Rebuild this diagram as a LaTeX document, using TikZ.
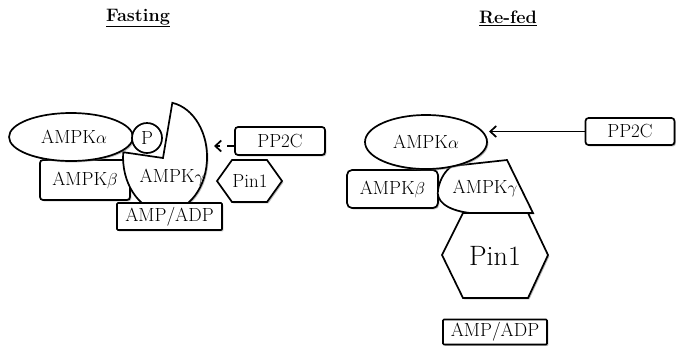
\documentclass[tikz,border=0pt]{standalone}
\usetikzlibrary{shapes.geometric,arrows.meta,shadows}
\begin{document}
\begin{tikzpicture}[x=1pt,y=-1pt,
  outl/.style={draw=black,line width=1.7pt,fill=white},
  shad/.style={drop shadow={shadow xshift=1.4pt,shadow yshift=-1.4pt,fill=black!50,opacity=0.55}},
  lbl/.style={font=\fontsize{19}{22}\selectfont,inner sep=0pt},
  box/.style={outl,shad,rectangle,rounded corners=3pt,inner sep=0pt,font=\fontsize{19}{22}\selectfont},
  ell/.style={outl,shad,ellipse,inner sep=0pt,font=\fontsize{19}{22}\selectfont},
  ttl/.style={font=\fontsize{18}{21}\selectfont\bfseries,inner sep=0pt},
  barb/.style={-{Straight Barb[length=6pt,width=11pt]},line width=1.7pt}
]
\path[use as bounding box] (0,0) rectangle (676,346);

% titles
\node[ttl] (tF) at (138,18) {\underline{Fasting}};
\node[ttl] (tR) at (508,18) {\underline{Re-fed}};

% ---------------- Fasting ----------------
\node[box,minimum width=90pt,minimum height=40pt] (betaL) at (85,180) {AMPK$\beta$};
\path[outl,shad] (123.2,152.2) arc[start angle=185,end angle=-80,x radius=42,y radius=55] -- (163,158) -- cycle;
\node[lbl] (gammaL) at (172,177) {AMPK$\gamma$};
\node[ell,minimum width=124pt,minimum height=48pt] (alphaL) at (71,137) {\hspace*{6pt}AMPK$\alpha$};
\node[outl,circle,minimum size=30pt,inner sep=0pt,font=\fontsize{19}{22}\selectfont] (P) at (147,138) {P};
\node[box,rounded corners=1pt,minimum width=105pt,minimum height=27pt] (ampL) at (169.5,216.5) {AMP/ADP};
\path[outl,shad] (217,181) -- (232,160) -- (267,160) -- (282,181) -- (267,202) -- (232,202) -- cycle;
\node[lbl] (pinL) at (250,181) {Pin1};
\node[box,minimum width=90pt,minimum height=28pt] (ppL) at (280,141) {PP2C};
\coordinate (tipL) at (214,146);
\draw[barb,dash pattern=on 7pt off 7pt] (ppL.west |- tipL) -- (tipL);

% ---------------- Re-fed ----------------
\node[box,rounded corners=5pt,minimum width=91pt,minimum height=38pt] (betaR) at (392.5,189) {AMPK$\beta$};
\path[outl,shad] (452,166) -- (507,160) -- (533,213) -- (470,213)
   .. controls (445,210) and (436,200) .. (438,190)
   .. controls (440,178) and (446,170) .. (452,166);
\node[lbl] (gammaR) at (485,188) {AMPK$\gamma$};
\node[ell,minimum width=122pt,minimum height=54pt] (alphaR) at (426,142) {\raisebox{-3pt}{AMPK$\alpha$}};
\path[outl,shad] (442,255) -- (463,213) -- (528,213) -- (548,255) -- (528,298) -- (463,298) -- cycle;
\node[font=\fontsize{28}{32}\selectfont,inner sep=0pt] (pinR) at (495,256) {Pin1};
\node[box,rounded corners=1pt,minimum width=104pt,minimum height=25pt] (ampR) at (495,332) {AMP/ADP};
\node[box,minimum width=89pt,minimum height=27pt] (ppR) at (630,131.5) {PP2C};
\coordinate (tipR) at (489,131.5);
\draw[barb] (ppR.west) -- (tipR);
\end{tikzpicture}
\end{document}
